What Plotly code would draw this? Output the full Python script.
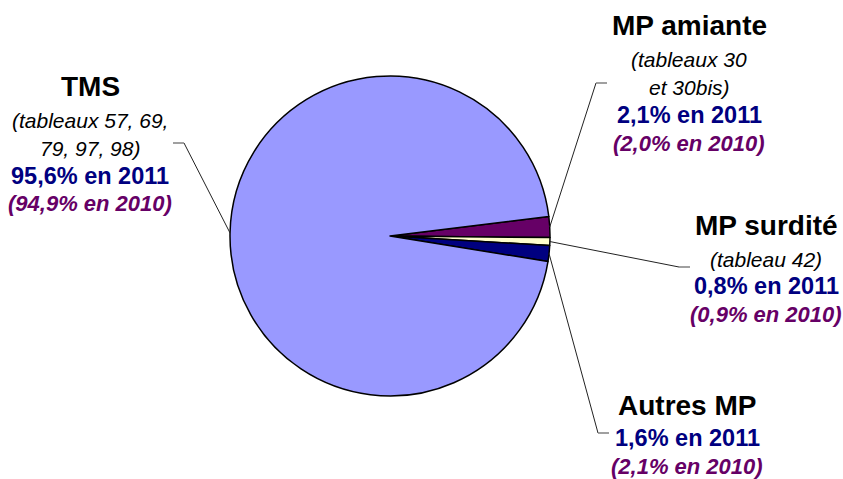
import math

import plotly.graph_objects as go

W, H = 843, 479

# parts of the occupational diseases total (2011), clockwise from 3 o'clock
categories = ["MP amiante", "MP surdité", "Autres MP", "TMS"]
share_2011 = [2.1, 0.8, 1.6, 95.6]
share_2010 = [2.0, 0.9, 2.1, 94.9]
sources = ["(tableaux 30<br>et 30bis)", "(tableau 42)", "", "(tableaux 57, 69,<br>79, 97, 98)"]
colors = ["#660066", "#FFFFCC", "#000080", "#9999FF"]

# pie geometry, pixels
CX, CY, R = 390, 236, 160
ROTATION = 83

# label block centre (x, first line y), elbow of leader line, and side of the elbow tick
label_pos = {
    "MP amiante": (689, 25, (596, 83), 1),
    "MP surdité": (766, 225, (679, 267), 1),
    "Autres MP": (687, 405, (598, 433), 1),
    "TMS": (90, 86, (184, 143), -1),
}


def px(x, y):
    return x / W, 1 - y / H


fig = go.Figure()
fig.add_trace(go.Pie(
    labels=categories,
    values=share_2011,
    sort=False,
    direction="clockwise",
    rotation=ROTATION,
    textinfo="none",
    hoverinfo="label+percent",
    marker=dict(colors=colors, line=dict(color="black", width=1.5)),
    domain=dict(x=[(CX - R) / W, (CX + R) / W], y=[1 - (CY + R) / H, 1 - (CY - R) / H]),
    showlegend=False,
))

FONT = "Liberation Sans, Arial, sans-serif"
total = sum(share_2011)
cum = 0.0
shapes = []
annotations = []
for name, v11, v10, src in zip(categories, share_2011, share_2010, sources):
    mid = cum + v11 / 2
    cum += v11
    # clockwise angle from 12 o'clock -> screen coordinates
    ang = math.radians(ROTATION + mid / total * 360)
    ex, ey = CX + R * math.sin(ang), CY - R * math.cos(ang)
    lx, ly0, (bx, by), side = label_pos[name]

    x0, y0 = px(ex, ey)
    x1, y1 = px(bx, by)
    x2, _ = px(bx + side * 11, by)
    shapes.append(dict(type="line", xref="paper", yref="paper", x0=x0, y0=y0, x1=x1, y1=y1,
                       line=dict(color="#222222", width=1)))
    shapes.append(dict(type="line", xref="paper", yref="paper", x0=x1, y0=y1, x1=x2, y1=y1,
                       line=dict(color="#808080", width=1.5)))

    # (text, font size, colour, gap to previous line)
    lines = [(f"<b>{name}</b>", 28, "black", 0)]
    for s in [t for t in src.split("<br>") if t]:
        lines.append((f"<i>{s}</i>", 21, "black", 34 if len(lines) == 1 else 29))
    lines.append((f"<b>{v11:.1f}% en 2011</b>".replace(".", ","), 23.5, "#000080",
                  33 if len(lines) == 1 else 27))
    lines.append((f"<b><i>({v10:.1f}% en 2010)</i></b>".replace(".", ","), 22, "#660066", 28))

    y = ly0
    for txt, size, col, gap in lines:
        y += gap
        ax, ay = px(lx, y)
        annotations.append(dict(text=txt, x=ax, y=ay, xref="paper", yref="paper",
                                xanchor="center", yanchor="middle", showarrow=False,
                                font=dict(family=FONT, size=size, color=col)))

fig.update_layout(
    width=W, height=H,
    margin=dict(l=0, r=0, t=0, b=0),
    paper_bgcolor="white",
    plot_bgcolor="white",
    shapes=shapes,
    annotations=annotations,
)

fig.write_html("out.html", config={"displayModeBar": False},
               post_script="document.body.style.margin='0';")
